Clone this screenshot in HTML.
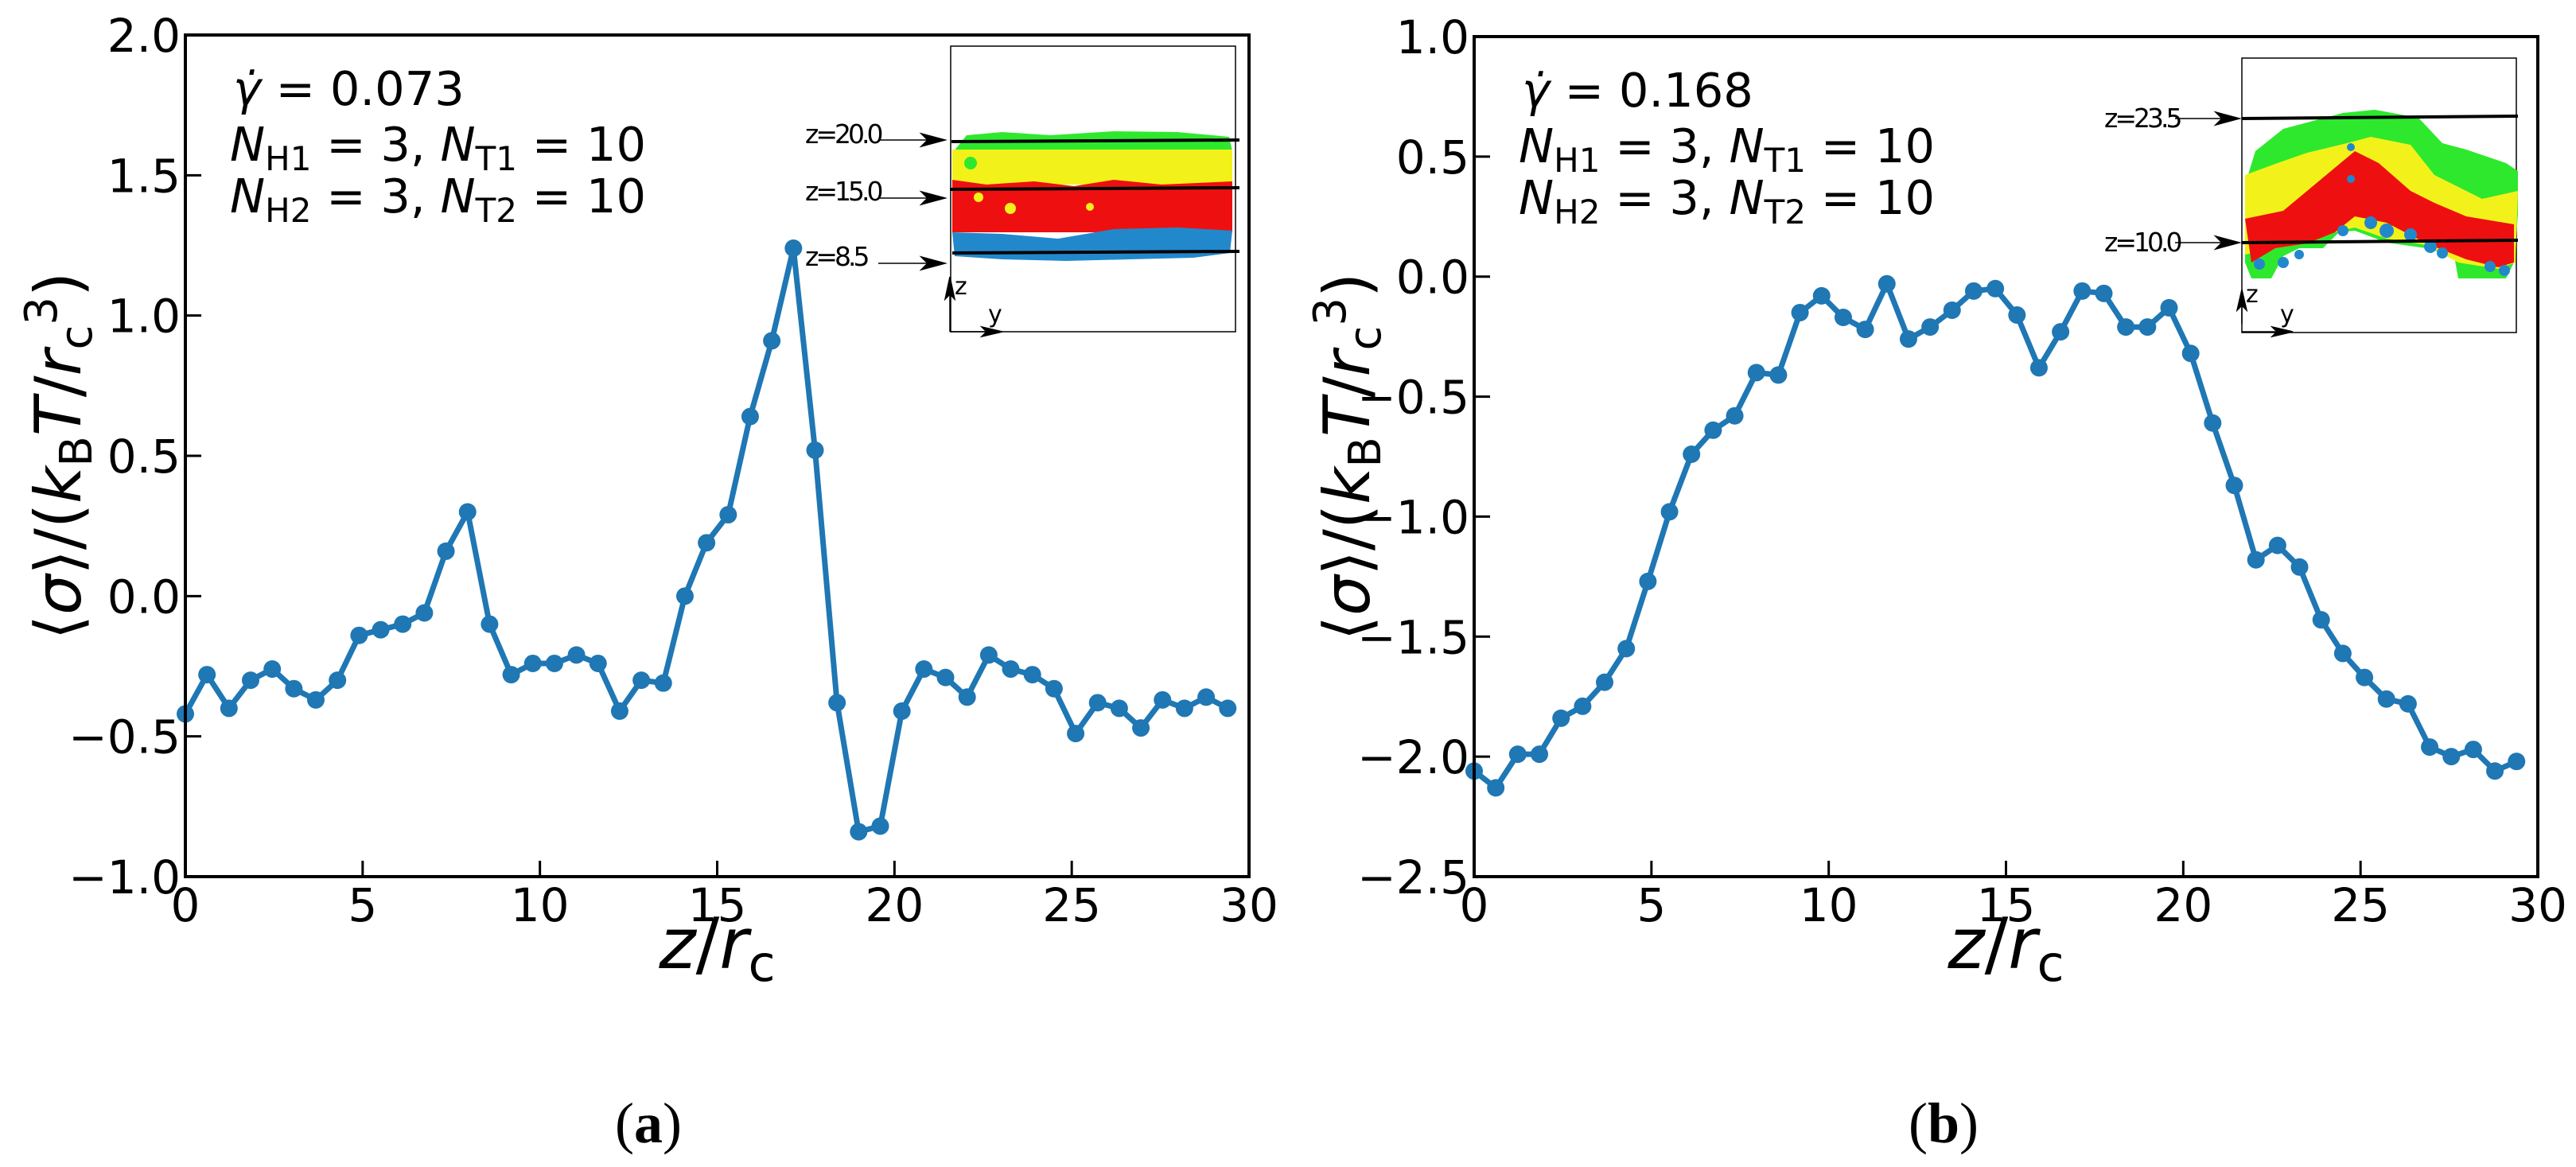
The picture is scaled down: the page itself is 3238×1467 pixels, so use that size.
<!DOCTYPE html>
<html><head><meta charset="utf-8"><style>
html,body{margin:0;padding:0;background:#fff}
svg{display:block}
text{font-family:"DejaVu Sans","Liberation Sans",sans-serif}
</style></head><body>
<svg id="fig" width="3238" height="1467" viewBox="0 0 3238 1467" xmlns="http://www.w3.org/2000/svg">
<rect width="3238" height="1467" fill="#fff"/>
<g id="panelA"></g>
<g id="panelB"></g>

<!-- inset a -->
<g>
  <rect x="1195" y="58" width="358" height="359" fill="#fff" stroke="#000" stroke-width="1.5"/>
  <path d="M1199,190 L1215,170 L1260,166 L1320,170 L1400,165 L1480,166 L1545,172 L1549,190 Z" fill="#2ee82e"/>
  <rect x="1197" y="188" width="352" height="44" fill="#f2f21a"/>
  <path d="M1197,226 L1240,232 L1300,228 L1350,234 L1400,226 L1460,232 L1549,228 L1549,292 L1197,292 Z" fill="#ee1010"/>
  <path d="M1197,292 L1260,294 L1330,300 L1400,288 L1480,286 L1549,290 L1546,318 L1500,324 L1420,326 L1340,328 L1260,326 L1200,322 Z" fill="#2288cc"/>
  <circle cx="1230" cy="248" r="6" fill="#f2f21a"/><circle cx="1270" cy="262" r="7" fill="#f2f21a"/><circle cx="1370" cy="260" r="5" fill="#f2f21a"/>
  <circle cx="1220" cy="205" r="8" fill="#2ee82e"/>
  <line x1="1196" y1="178" x2="1558" y2="176" stroke="#000" stroke-width="4"/>
  <line x1="1194" y1="238" x2="1558" y2="236" stroke="#000" stroke-width="4"/>
  <line x1="1197" y1="318" x2="1558" y2="316" stroke="#000" stroke-width="4"/>
  <g font-size="33" letter-spacing="-4" fill="#000">
    <text x="1012" y="180">z=20.0</text>
    <text x="1012" y="252">z=15.0</text>
    <text x="1012" y="334">z=8.5</text>
  </g>
  <g stroke="#000" stroke-width="1.5" fill="#000">
    <line x1="1104" y1="176" x2="1180" y2="176"/><path d="M1188,176 L1158,168 L1166,176 L1158,184Z"/>
    <line x1="1104" y1="249" x2="1180" y2="249"/><path d="M1188,249 L1158,241 L1166,249 L1158,257Z"/>
    <line x1="1104" y1="331" x2="1180" y2="331"/><path d="M1188,331 L1158,323 L1166,331 L1158,339Z"/>
    <line x1="1194" y1="417" x2="1194" y2="360"/><path d="M1194,348 L1188,376 L1194,370 L1200,376Z"/>
    <line x1="1194" y1="417" x2="1250" y2="417"/><path d="M1260,417 L1234,411 L1240,417 L1234,423Z"/>
  </g>
  <text x="1200" y="370" font-size="30" fill="#000">z</text>
  <text x="1242" y="405" font-size="30" fill="#000">y</text>
</g>

<!-- inset b -->
<g>
  <rect x="2818" y="73" width="345" height="345" fill="#fff" stroke="#000" stroke-width="1.5"/>
  <path d="M2822,232 L2835,190 L2870,162 L2945,142 L2985,138 L3040,148 L3070,180 L3100,188 L3150,205 L3165,215 L3165,270 L3160,330 L3150,350 L3090,350 L3085,322 L3050,312 L3000,305 L2960,290 L2940,292 L2920,312 L2890,312 L2870,322 L2855,350 L2830,350 L2822,330 Z" fill="#2ee82e"/>
  <path d="M2822,220 L2860,206 L2900,192 L2950,180 L2980,172 L3030,182 L3060,220 L3120,250 L3165,240 L3162,330 L3140,338 L3090,330 L3050,308 L3000,300 L2960,286 L2935,292 L2900,306 L2860,312 L2822,320 Z" fill="#f2f21a"/>
  <path d="M2822,275 L2870,265 L2900,240 L2930,215 L2960,190 L2990,205 L3030,240 L3060,255 L3100,272 L3160,282 L3160,330 L3140,336 L3100,326 L3050,306 L3000,280 L2960,272 L2935,292 L2900,306 L2860,312 L2830,330 Z" fill="#ee1010"/>
  <g fill="#2288cc"><circle cx="2955" cy="185" r="5"/><circle cx="2955" cy="225" r="5"/><circle cx="2980" cy="280" r="8"/><circle cx="3000" cy="290" r="9"/><circle cx="3030" cy="295" r="8"/><circle cx="3055" cy="310" r="8"/><circle cx="3070" cy="318" r="7"/><circle cx="3130" cy="335" r="7"/><circle cx="3148" cy="340" r="7"/><circle cx="2840" cy="332" r="7"/><circle cx="2870" cy="330" r="7"/><circle cx="2890" cy="320" r="6"/><circle cx="2945" cy="290" r="7"/></g>
  <line x1="2818" y1="149" x2="3165" y2="146" stroke="#000" stroke-width="4"/>
  <line x1="2818" y1="305" x2="3165" y2="302" stroke="#000" stroke-width="4"/>
  <g font-size="33" letter-spacing="-4" fill="#000">
    <text x="2645" y="160">z=23.5</text>
    <text x="2645" y="316">z=10.0</text>
  </g>
  <g stroke="#000" stroke-width="1.5" fill="#000">
    <line x1="2734" y1="149" x2="2806" y2="149"/><path d="M2815,149 L2785,141 L2793,149 L2785,157Z"/>
    <line x1="2734" y1="305" x2="2806" y2="305"/><path d="M2815,305 L2785,297 L2793,305 L2785,313Z"/>
    <line x1="2818" y1="407" x2="2818" y2="375"/><path d="M2818,364 L2812,390 L2818,384 L2824,390Z"/>
    <line x1="2818" y1="417" x2="2870" y2="417"/><path d="M2882,417 L2856,411 L2862,417 L2856,423Z"/>
  </g>
  <text x="2823" y="380" font-size="30" fill="#000">z</text>
  <text x="2866" y="405" font-size="30" fill="#000">y</text>
</g>

<text x="815" y="1436" text-anchor="middle" font-size="72" style="font-family:'Liberation Serif',serif">(<tspan font-weight="bold">a</tspan>)</text>
<text x="2443" y="1436" text-anchor="middle" font-size="72" style="font-family:'Liberation Serif',serif">(<tspan font-weight="bold">b</tspan>)</text>
</svg>
<script>
// ---- data ----
const zA = [0,0.61,1.23,1.84,2.45,3.06,3.68,4.29,4.9,5.51,6.13,6.74,7.35,7.96,8.58,9.19,9.8,10.41,11.03,11.64,12.25,12.86,13.48,14.09,14.7,15.31,15.93,16.54,17.15,17.76,18.38,18.99,19.6,20.21,20.83,21.44,22.05,22.66,23.28,23.89,24.5,25.11,25.73,26.34,26.95,27.56,28.18,28.79,29.4];
const sigmaA = [-0.42,-0.28,-0.40,-0.30,-0.26,-0.33,-0.37,-0.30,-0.14,-0.12,-0.10,-0.06,0.16,0.30,-0.10,-0.28,-0.24,-0.24,-0.21,-0.24,-0.41,-0.30,-0.31,0.00,0.19,0.29,0.64,0.91,1.24,0.52,-0.38,-0.84,-0.82,-0.41,-0.26,-0.29,-0.36,-0.21,-0.26,-0.28,-0.33,-0.49,-0.38,-0.40,-0.47,-0.37,-0.40,-0.36,-0.40];
const zB = zA.slice();
const sigmaB = [-2.06,-2.13,-1.99,-1.99,-1.84,-1.79,-1.69,-1.55,-1.27,-0.98,-0.74,-0.64,-0.58,-0.40,-0.41,-0.15,-0.08,-0.17,-0.22,-0.03,-0.26,-0.21,-0.14,-0.06,-0.05,-0.16,-0.38,-0.23,-0.06,-0.07,-0.21,-0.21,-0.13,-0.32,-0.61,-0.87,-1.18,-1.12,-1.21,-1.43,-1.57,-1.67,-1.76,-1.78,-1.96,-2.00,-1.97,-2.06,-2.02];
const xTicks = [0,5,10,15,20,25,30];
const yTicksA = [-1.0,-0.5,0.0,0.5,1.0,1.5,2.0];
const yTicksB = [-2.5,-2.0,-1.5,-1.0,-0.5,0.0,0.5,1.0];
const gammaA = "0.073";
const gammaB = "0.168";

const NS = "http://www.w3.org/2000/svg";
function mk(tag, attrs, parent){const e=document.createElementNS(NS,tag);for(const k in attrs)e.setAttribute(k,attrs[k]);parent.appendChild(e);return e;}
function fmt(v){const s=Math.abs(v).toFixed(1);return (v<0?"\u2212":"")+s;}

function panel(g, L, R, T, B, xs, ys, yTicks, gamma){
  const x0=0,x1=30,y0=yTicks[0],y1=yTicks[yTicks.length-1];
  const X=v=>L+(v-x0)/(x1-x0)*(R-L);
  const Y=v=>B-(v-y0)/(y1-y0)*(B-T);
  xTicks.forEach(t=>{
    const tk=mk('line',{x1:X(t),x2:X(t),y1:B,y2:B-20,stroke:'#000','stroke-width':3},g);
    
    
    const lb=mk('text',{x:X(t),y:B+56,'text-anchor':'middle','font-size':58},g);
    lb.textContent=String(t);
    
    
  });
  yTicks.forEach(t=>{
    const tk=mk('line',{x1:L,x2:L+20,y1:Y(t),y2:Y(t),stroke:'#000','stroke-width':3},g);
    
    
    const lb=mk('text',{x:L-6,y:Y(t)+21,'text-anchor':'end','font-size':58},g);
    lb.textContent=fmt(t);
    
    
  });
  let d='';
  xs.forEach((x,i)=>{d+=(i?'L':'M')+X(x).toFixed(1)+','+Y(ys[i]).toFixed(1);});
  const ln=mk('path',{d:d,fill:'none',stroke:'#1f77b4','stroke-width':7,'stroke-linejoin':'round'},g);
  
  
  xs.forEach((x,i)=>{
    const c=mk('circle',{cx:X(x),cy:Y(ys[i]),r:11,fill:'#1f77b4'},g);
    
    
  });
  const fr=mk('rect',{x:L,y:T,width:R-L,height:B-T,fill:'none',stroke:'#000','stroke-width':4},g);
  
  
  const ax=L+60;
  const t1=mk('text',{x:ax,y:T+88,'font-size':59},g);
  t1.innerHTML='<tspan font-style="italic">\u03B3\u0307</tspan> = '+gamma;
  
  
  const t2=mk('text',{x:ax-4,y:T+158,'font-size':59},g);
  t2.innerHTML='<tspan font-style="italic">N</tspan><tspan font-size="42" dy="12">H1</tspan><tspan dy="-12"> = 3, </tspan><tspan font-style="italic">N</tspan><tspan font-size="42" dy="12">T1</tspan><tspan dy="-12"> = 10</tspan>';
  
  
  const t3=mk('text',{x:ax-4,y:T+223,'font-size':59},g);
  t3.innerHTML='<tspan font-style="italic">N</tspan><tspan font-size="42" dy="12">H2</tspan><tspan dy="-12"> = 3, </tspan><tspan font-style="italic">N</tspan><tspan font-size="42" dy="12">T2</tspan><tspan dy="-12"> = 10</tspan>';
  
  
  const xl=mk('text',{x:(L+R)/2,y:B+115,'text-anchor':'middle','font-size':88},g);
  xl.innerHTML='<tspan font-style="italic">z</tspan>/<tspan font-style="italic">r</tspan><tspan font-size="62" dy="16">c</tspan>';
  
  
  const yl=mk('text',{x:0,y:0,'text-anchor':'middle','font-size':80,transform:'translate('+(L-132)+','+((T+B)/2)+') rotate(-90)'},g);
  yl.innerHTML='\u27E8<tspan font-style="italic">\u03C3</tspan>\u27E9/(<tspan font-style="italic">k</tspan><tspan font-size="56" dy="14">B</tspan><tspan dy="-14" font-style="italic">T</tspan>/<tspan font-style="italic">r</tspan><tspan font-size="56" dy="14">c</tspan><tspan font-size="56" dy="-44">3</tspan><tspan dy="30">)</tspan>';
  
  
}
panel(document.getElementById('panelA'),233,1570,44,1102,zA,sigmaA,yTicksA,gammaA);
panel(document.getElementById('panelB'),1853,3190,46,1102,zB,sigmaB,yTicksB,gammaB);
</script>
</body></html>
